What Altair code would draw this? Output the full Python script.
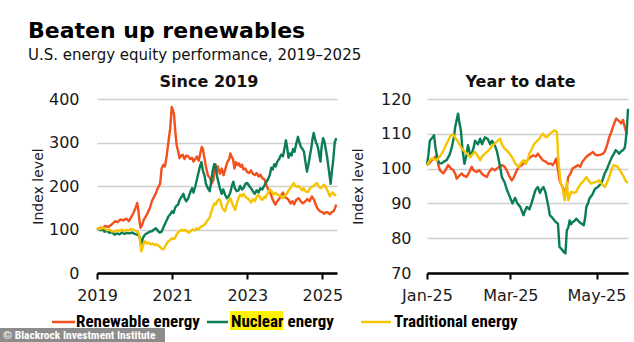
import altair as alt
import pandas as pd

# ---------------- "Since 2019" panel (x = decimal year) ----------------
ren_since_x = [2019.00, 2019.08, 2019.15, 2019.22, 2019.30, 2019.40, 2019.48, 2019.55, 2019.62, 2019.70,
               2019.78, 2019.85, 2019.92, 2019.97, 2020.03, 2020.07, 2020.10, 2020.13, 2020.16, 2020.20,
               2020.25, 2020.30, 2020.36, 2020.41, 2020.46, 2020.52, 2020.56, 2020.62, 2020.68, 2020.72,
               2020.77, 2020.81, 2020.86, 2020.90, 2020.95, 2020.99, 2021.02, 2021.05, 2021.08, 2021.12,
               2021.16, 2021.20, 2021.24, 2021.28, 2021.33, 2021.38, 2021.43, 2021.48, 2021.53, 2021.57,
               2021.62, 2021.66, 2021.71, 2021.75, 2021.79, 2021.82, 2021.86, 2021.90, 2021.95, 2022.01,
               2022.05, 2022.10, 2022.15, 2022.18, 2022.22, 2022.27, 2022.32, 2022.37, 2022.42, 2022.47,
               2022.52, 2022.55, 2022.58, 2022.62, 2022.66, 2022.70, 2022.74, 2022.78, 2022.82, 2022.86,
               2022.90, 2022.95, 2023.00, 2023.05, 2023.10, 2023.15, 2023.20, 2023.25, 2023.30, 2023.35,
               2023.40, 2023.45, 2023.48, 2023.52, 2023.56, 2023.60, 2023.64, 2023.68, 2023.72, 2023.75,
               2023.80, 2023.85, 2023.90, 2023.95, 2024.00, 2024.05, 2024.10, 2024.15, 2024.20, 2024.25,
               2024.30, 2024.37, 2024.42, 2024.48, 2024.55, 2024.60, 2024.66, 2024.72, 2024.78, 2024.82,
               2024.86, 2024.90, 2024.95, 2025.00, 2025.05, 2025.10, 2025.15, 2025.20, 2025.25, 2025.30,
               2025.34, 2025.37]
ren_since_y = [100, 104, 103, 108, 106, 112, 119, 117, 123, 121,
               125, 119, 130, 138, 150, 161, 145, 120, 104, 110,
               123, 130, 140, 150, 165, 175, 182, 195, 205, 240,
               249, 245, 272, 300, 333, 382, 375, 365, 330, 294,
               280, 264, 270, 272, 262, 270, 268, 262, 265, 256,
               262, 268, 258, 275, 290, 285, 264, 245, 225, 218,
               205, 214, 250, 232, 245, 228, 240, 225, 240, 255,
               262, 275, 268, 262, 240, 255, 248, 252, 244, 249,
               238, 240, 232, 230, 236, 228, 225, 230, 222, 226,
               218, 216, 210, 200, 192, 188, 178, 168, 162, 157,
               165, 170, 178, 185, 175, 172, 168, 160, 165, 158,
               168, 172, 165, 160, 165, 170, 165, 176, 168, 158,
               150, 145, 141, 140, 136, 140, 139, 135, 140, 142,
               150, 157]

nuc_since_x = [2019.00, 2019.05, 2019.10, 2019.15, 2019.20, 2019.27, 2019.33, 2019.40, 2019.47, 2019.53,
               2019.60, 2019.67, 2019.73, 2019.80, 2019.87, 2019.93, 2020.00, 2020.07, 2020.12, 2020.16,
               2020.19, 2020.22, 2020.26, 2020.30, 2020.35, 2020.40, 2020.46, 2020.52, 2020.57, 2020.62,
               2020.67, 2020.72, 2020.77, 2020.82, 2020.86, 2020.90, 2020.95, 2021.00, 2021.04, 2021.08,
               2021.12, 2021.16, 2021.20, 2021.25, 2021.30, 2021.34, 2021.38, 2021.43, 2021.48, 2021.53,
               2021.57, 2021.62, 2021.66, 2021.70, 2021.74, 2021.78, 2021.82, 2021.86, 2021.90, 2021.95,
               2022.00, 2022.04, 2022.08, 2022.12, 2022.15, 2022.19, 2022.23, 2022.27, 2022.32, 2022.36,
               2022.41, 2022.46, 2022.50, 2022.55, 2022.59, 2022.63, 2022.67, 2022.72, 2022.77, 2022.81,
               2022.86, 2022.90, 2022.95, 2023.00, 2023.05, 2023.10, 2023.15, 2023.20, 2023.25, 2023.30,
               2023.35, 2023.40, 2023.45, 2023.50, 2023.55, 2023.60, 2023.64, 2023.68, 2023.72, 2023.76,
               2023.80, 2023.85, 2023.90, 2023.95, 2024.00, 2024.03, 2024.06, 2024.10, 2024.14, 2024.18,
               2024.22, 2024.26, 2024.30, 2024.35, 2024.39, 2024.43, 2024.47, 2024.51, 2024.55, 2024.59,
               2024.63, 2024.67, 2024.71, 2024.74, 2024.77, 2024.80, 2024.83, 2024.86, 2024.89, 2024.92,
               2024.95, 2024.98, 2025.02, 2025.06, 2025.10, 2025.13, 2025.16, 2025.19, 2025.22, 2025.25,
               2025.29, 2025.33, 2025.37]
nuc_since_y = [100, 102, 98, 101, 95, 97, 92, 94, 88, 91,
               89, 93, 90, 92, 91, 93, 90, 88, 86, 75,
               68, 80, 86, 90, 92, 95, 96, 100, 103, 97,
               93, 95, 105, 115, 122, 130, 135, 142, 138, 150,
               155, 157, 168, 175, 182, 170, 165, 172, 185, 195,
               185, 200, 215, 230, 245, 255, 235, 225, 205, 195,
               188, 210, 235, 250, 248, 225, 210, 195, 182, 192,
               180, 172, 176, 185, 200, 210, 195, 188, 190, 200,
               192, 195, 205, 207, 200, 195, 188, 182, 190, 185,
               195, 192, 200, 208, 215, 225, 242, 238, 250, 245,
               256, 262, 272, 268, 290, 305, 290, 265, 275, 270,
               285, 279, 295, 313, 300, 290, 285, 279, 255, 233,
               250, 270, 290, 310, 322, 310, 300, 295, 285, 270,
               256, 290, 310, 300, 280, 265, 245, 225, 205, 230,
               260, 300, 310]

trad_since_x = [2019.00, 2019.05, 2019.10, 2019.15, 2019.20, 2019.27, 2019.33, 2019.40, 2019.47, 2019.53,
                2019.60, 2019.66, 2019.72, 2019.78, 2019.83, 2019.90, 2019.96, 2020.02, 2020.08, 2020.12,
                2020.15, 2020.18, 2020.21, 2020.25, 2020.28, 2020.33, 2020.38, 2020.43, 2020.48, 2020.53,
                2020.58, 2020.63, 2020.68, 2020.72, 2020.77, 2020.82, 2020.86, 2020.90, 2020.95, 2021.00,
                2021.04, 2021.08, 2021.13, 2021.18, 2021.22, 2021.26, 2021.30, 2021.35, 2021.40, 2021.45,
                2021.50, 2021.55, 2021.60, 2021.65, 2021.70, 2021.75, 2021.80, 2021.85, 2021.90, 2021.95,
                2022.00, 2022.04, 2022.08, 2022.12, 2022.16, 2022.20, 2022.25, 2022.29, 2022.33, 2022.37,
                2022.41, 2022.45, 2022.50, 2022.55, 2022.60, 2022.65, 2022.68, 2022.72, 2022.77, 2022.81,
                2022.86, 2022.90, 2022.95, 2023.00, 2023.05, 2023.10, 2023.15, 2023.20, 2023.25, 2023.30,
                2023.35, 2023.40, 2023.45, 2023.48, 2023.52, 2023.56, 2023.60, 2023.65, 2023.70, 2023.75,
                2023.80, 2023.85, 2023.90, 2023.95, 2024.00, 2024.06, 2024.10, 2024.15, 2024.20, 2024.24,
                2024.28, 2024.33, 2024.37, 2024.42, 2024.47, 2024.50, 2024.55, 2024.60, 2024.63, 2024.67,
                2024.72, 2024.77, 2024.82, 2024.86, 2024.90, 2024.95, 2025.00, 2025.04, 2025.08, 2025.12,
                2025.16, 2025.20, 2025.24, 2025.28, 2025.32, 2025.37]
trad_since_y = [100, 103, 101, 104, 103, 98, 100, 96, 95, 98,
                97, 100, 96, 99, 98, 101, 100, 97, 94, 90,
                70, 50, 58, 70, 73, 68, 70, 66, 68, 64,
                66, 63, 60, 56, 54, 62, 68, 73, 76, 80,
                78, 81, 90, 95, 97, 100, 97, 99, 95, 93,
                97, 100, 98, 103, 100, 105, 108, 110, 115, 122,
                127, 140, 150, 160, 157, 165, 170, 165, 150, 145,
                142, 155, 165, 172, 160, 150, 145, 160, 172, 180,
                176, 182, 175, 172, 168, 162, 170, 165, 175, 180,
                172, 168, 175, 172, 180, 185, 192, 188, 180, 184,
                180, 178, 176, 172, 178, 183, 190, 195, 202, 207,
                200, 198, 200, 194, 190, 195, 188, 186, 187, 195,
                198, 200, 205, 207, 200, 195, 198, 203, 200, 192,
                185, 176, 182, 185, 180, 178]

# ---------------- "Year to date" panel (x = days since 1 Jan 2025) ----------------
nuc_ytd_x = [0, 1, 2, 4, 5, 6, 7.6, 9, 10.4, 12, 14, 16, 17.5, 19, 20, 22, 23, 24, 25, 26.5,
             28, 29, 30, 31, 33, 34, 36, 37.6, 39, 41, 43, 44.7, 46, 48, 49.5, 50.6, 52, 53, 55, 56.5,
             57.7, 59, 60.5, 62.4, 64, 66, 67, 68.3, 69.5, 70.7, 72.5, 74, 76, 77, 78.5, 80, 81, 82.5, 84, 85,
             86, 87, 88.5, 90, 91.5, 92.7, 93.8, 95, 96, 97, 98, 99, 100, 101, 102, 103, 104.5, 105.7, 107, 108,
             110, 111, 112, 112.8, 114, 115, 117, 118.7, 120, 121, 122, 123.4, 124.5, 125.8, 127, 128, 129.5, 131, 132, 133.5,
             135, 136, 137.5, 138.8, 140, 140.6, 141.6, 142.3]
nuc_ytd_y = [101, 104, 108, 109, 109.6, 106, 102.4, 101.5, 101.5, 102, 102.5, 104, 106, 109, 112, 115.8, 113, 111, 106, 101.4,
             104, 106.7, 105, 103.5, 106, 108, 107, 108.6, 107, 109, 108.5, 107, 108, 106.7, 105, 102.9, 100, 97.6, 96, 94,
             92.8, 91.5, 90, 91.6, 90, 89, 88, 86.6, 88, 89, 88.3, 90, 92.8, 94, 94.7, 93, 94, 94.7, 93, 91,
             89, 86.6, 86, 85.2, 84.5, 84.2, 77.5, 77, 76.5, 76, 75.6, 82.3, 83, 85.1, 84, 84.6, 85, 85.6, 85, 84.6,
             84, 83.7, 86, 89, 90, 91.4, 92.5, 94, 94.5, 94.7, 95.2, 95.7, 97, 98.6, 99.5, 100.5, 102, 103.4, 104, 105.3,
             104.8, 104.3, 105, 105.3, 106, 107.7, 112, 117.2]

ren_ytd_x = [0, 1.5, 3.3, 5, 7, 8, 9.2, 10.5, 11.6, 13, 15, 17, 18.7, 20, 21, 23, 24.6, 26, 28, 30,
             31.7, 33, 35, 37, 38.8, 40.5, 42.3, 44, 46, 48, 49.4, 51, 53, 55, 56.5, 58, 60, 61.5, 63.6, 65,
             67, 68.5, 70, 72.5, 75, 77, 78.5, 80, 82, 84, 85.6, 87.5, 89, 90.5, 91.5, 93, 93.8, 95, 96, 97,
             98, 99, 100, 101.5, 103, 105, 107, 108.5, 110, 112, 114, 116, 117.5, 119, 121, 123, 124.6, 126, 127, 128,
             129, 130.5, 131.7, 133, 134, 135, 136.4, 137.5, 138.8, 140, 140.6, 141.6]
ren_ytd_y = [101, 101.5, 102.4, 103, 103.8, 101, 99.5, 99, 98.6, 99.5, 101, 100, 99.5, 98.5, 97.1, 98, 98.6, 98, 97.6, 99,
             100.5, 99.5, 99, 99.5, 98.6, 98, 97.6, 99, 100, 99.5, 100, 100.5, 101, 100.5, 99.5, 98, 96.6, 97.5, 99.5, 100.5,
             101, 101.5, 102, 103, 103.8, 103.5, 104.3, 103.5, 102.4, 102, 101.4, 101.5, 101, 102, 102.9, 99, 96.6, 95.5, 94.7, 94,
             92.8, 95, 97.6, 98.5, 100, 100.5, 101, 100.5, 102, 103, 103.8, 104.3, 104.8, 104, 103.8, 104, 104.3, 105, 106.2, 107.5,
             109, 110.5, 112, 113.5, 114.4, 114, 113.5, 113, 114, 112, 111, 110]

trad_ytd_x = [0, 1.5, 3.3, 5, 7, 9, 10.4, 12, 14, 15.5, 17, 18.5, 19.8, 21.5, 23.4, 25, 27, 29, 30.5, 32,
              34, 36, 37.6, 39, 41, 43, 44.7, 46, 48, 50, 51.8, 53, 55, 57, 59, 60.5, 62.4, 64.8, 66.5, 68.3,
              70, 71.6, 72.5, 74, 76, 78, 79.6, 81, 82, 83, 84.4, 86, 87, 88.5, 90, 91, 92, 93, 94.5, 96,
              97.5, 99, 100, 102, 104, 105.7, 107, 109, 111, 112.8, 114.5, 116, 118, 120, 122, 124, 125.8, 127.5, 129, 130.5,
              132, 133.5, 135, 136.5, 138, 139.5, 141, 142.3]
trad_ytd_y = [101, 102, 102.9, 102.7, 102.4, 103.5, 104.3, 105.5, 107.2, 108.5, 109.6, 109.8, 109, 108, 106.7, 105.5, 104.8, 104, 103.3, 104,
              104.8, 103.5, 102.4, 103.5, 104.3, 105, 105.7, 106.5, 107.2, 108, 108.6, 107, 105.7, 105, 104, 103, 101.5, 100.5, 101.5, 102.4,
              101.4, 102.9, 104.3, 105.5, 107.2, 108, 108.6, 109.5, 110, 109.5, 109, 109.5, 110, 110.5, 111, 110.8, 110.5, 102.4, 96.2, 94.3,
              90.9, 96.2, 90.9, 93.3, 93, 93.3, 94.5, 95.7, 96.5, 97.6, 96.5, 95.7, 96, 96.2, 96.6, 95.5, 94.7, 96, 97.6, 99.5,
              101, 100.8, 100.5, 99.5, 98.6, 97.5, 96.2, 96]

SERIES = ["Renewable energy", "Nuclear energy", "Traditional energy"]
COLORS = ["#F2501C", "#0B7D55", "#F6C400"]

FONT = "DejaVu Sans"
LEG_FONT = "Roboto Condensed"


def to_long(parts):
    frames = []
    for name, xs, ys in parts:
        frames.append(pd.DataFrame({"x": xs, "value": ys, "series": name}))
    return pd.concat(frames, ignore_index=True)


df_since = to_long([(SERIES[0], ren_since_x, ren_since_y),
                    (SERIES[1], nuc_since_x, nuc_since_y),
                    (SERIES[2], trad_since_x, trad_since_y)])
df_ytd = to_long([(SERIES[0], ren_ytd_x, ren_ytd_y),
                  (SERIES[1], nuc_ytd_x, nuc_ytd_y),
                  (SERIES[2], trad_ytd_x, trad_ytd_y)])

color = alt.Color("series:N", scale=alt.Scale(domain=SERIES, range=COLORS), legend=None)

PLOT_H = 174
W_LEFT = 240
W_RIGHT = 201

x_axis_common = dict(title=None, grid=False, domain=True, domainColor="#000", domainWidth=2.5,
                     ticks=True, tickColor="#000", tickWidth=2, tickSize=6, labelFontSize=16,
                     labelPadding=8, labelColor="#1a1a1a", labelFont=FONT, labelFlush=False, zindex=1)
y_axis_common = dict(title="Index level", grid=True, gridColor="#cfcfcf", gridWidth=1.5, domain=False,
                     ticks=False, labelFontSize=16, labelColor="#1a1a1a", labelFont=FONT,
                     titleFontSize=14, titleFontWeight="normal", titleColor="#1a1a1a", titleFont=FONT)

one = pd.DataFrame({"k": [0]})


def seg(x1, x2, y, c):
    return alt.Chart(one).mark_rule(color=c, strokeWidth=2.5).encode(
        x=alt.value(x1), x2=alt.value(x2), y=alt.value(y))


def label(x, y, text, size=17, c="#000", font=LEG_FONT):
    return alt.Chart(one).mark_text(text=text, align="left", baseline="middle", fontSize=size,
                                    fontWeight="bold", color=c, font=font).encode(
        x=alt.value(x), y=alt.value(y))


def box(x1, x2, y1, y2, c):
    return alt.Chart(one).mark_rect(color=c).encode(
        x=alt.value(x1), x2=alt.value(x2), y=alt.value(y1), y2=alt.value(y2))


left_lines = alt.Chart(df_since).mark_line(strokeWidth=2.4, strokeJoin="round").encode(
    x=alt.X("x:Q", scale=alt.Scale(domain=[2019, 2025.39], nice=False, zero=False),
            axis=alt.Axis(values=[2019, 2021, 2023, 2025], format="d", **x_axis_common)),
    y=alt.Y("value:Q", scale=alt.Scale(domain=[0, 400], nice=False),
            axis=alt.Axis(values=[0, 100, 200, 300, 400], labelPadding=18, titlePadding=3, **y_axis_common)),
    color=color,
    detail="series:N",
)

LEG_Y = 223
left = alt.layer(
    left_lines,
    seg(-45, -22, LEG_Y, COLORS[0]),
    label(-21, LEG_Y, "Renewable energy"),
    seg(110, 131, LEG_Y, COLORS[1]),
    box(133, 186, 212, 231, "#FFF200"),
    label(134, LEG_Y, "Nuclear energy"),
    box(-97, 68, 229, 243, "#8c8c8c"),
    label(-94, 236.5, "© Blackrock Investment Institute", size=11.5, c="#ffffff"),
).properties(
    width=W_LEFT, height=PLOT_H,
    title=alt.TitleParams("Since 2019", fontSize=16, fontWeight="bold", anchor="middle", frame="group",
                          dx=-8, offset=1, color="#111", font=FONT),
)

month_labels = "datum.value == 0 ? 'Jan-25' : datum.value == 59 ? 'Mar-25' : 'May-25'"
right_lines = alt.Chart(df_ytd).mark_line(strokeWidth=2.4, strokeJoin="round").encode(
    x=alt.X("x:Q", scale=alt.Scale(domain=[0, 142.3], nice=False, zero=False),
            axis=alt.Axis(values=[0, 59, 120], labelExpr=month_labels, **x_axis_common)),
    y=alt.Y("value:Q", scale=alt.Scale(domain=[70, 120], nice=False, zero=False),
            axis=alt.Axis(values=[70, 80, 90, 100, 110, 120], labelPadding=16, titlePadding=15, **y_axis_common)),
    color=color,
    detail="series:N",
)

right = alt.layer(
    right_lines,
    seg(-66, -36, LEG_Y, COLORS[2]),
    label(-33, LEG_Y, "Traditional energy"),
).properties(
    width=W_RIGHT, height=PLOT_H,
    title=alt.TitleParams("Year to date", fontSize=16, fontWeight="bold", anchor="middle", frame="group",
                          dx=-7, offset=1, color="#111", font=FONT),
)

chart = alt.hconcat(left, right, spacing=8).properties(
    title=alt.TitleParams("Beaten up renewables", subtitle="U.S. energy equity performance, 2019–2025",
                          anchor="start", fontSize=22, fontWeight="bold", font=FONT, color="#000",
                          subtitleFontSize=15, subtitleFont=FONT, subtitleColor="#111", subtitlePadding=5,
                          dx=28, offset=10),
).configure(
    font=FONT, padding={"left": 0, "top": 20, "right": 0, "bottom": 0}, background="white",
).configure_view(strokeWidth=0)

chart.save("out.html", embed_options={"renderer": "svg", "actions": False})
